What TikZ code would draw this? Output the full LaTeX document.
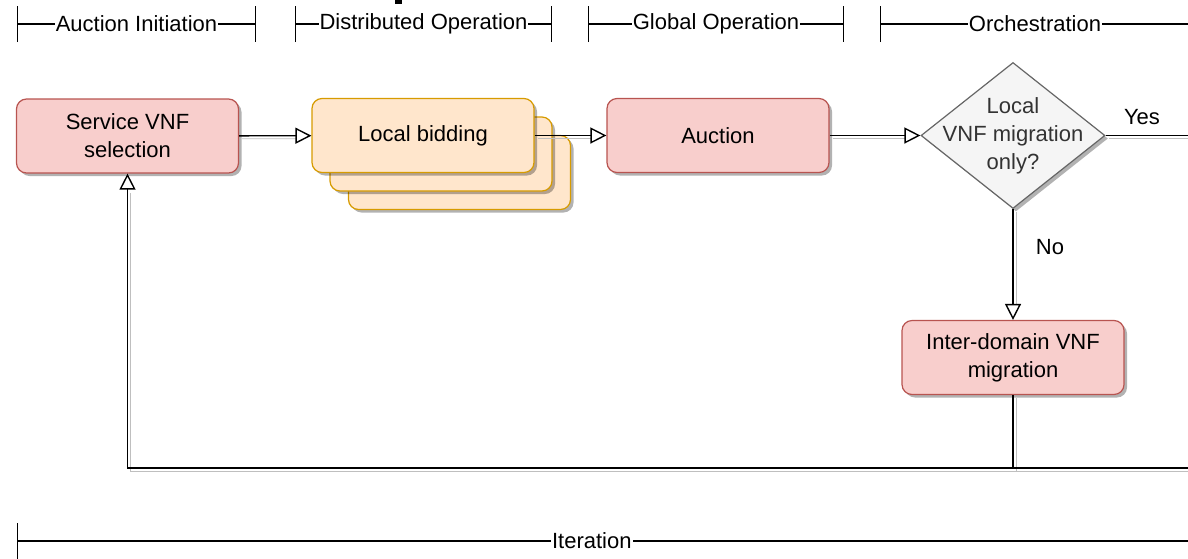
\documentclass[tikz,border=0pt]{standalone}
\usepackage{fontspec}
\setmainfont{Liberation Sans}
\usetikzlibrary{arrows.meta,shapes.geometric,shadows}
\definecolor{redfill}{HTML}{F8CECC}
\definecolor{redline}{HTML}{B85450}
\definecolor{orangefill}{HTML}{FFE6CC}
\definecolor{orangeline}{HTML}{D79B00}
\definecolor{grayfill}{HTML}{F5F5F5}
\definecolor{grayline}{HTML}{666666}
\definecolor{graytext}{HTML}{333333}

\begin{document}
\begin{tikzpicture}[x=0.5pt, y=-0.5pt,
                every node/.style={font=\fontsize{11}{14}\selectfont},
                box/.style={rectangle, rounded corners=5pt, line width=0.6pt, minimum width=111pt, minimum height=37pt, align=center,
                    drop shadow={shadow xshift=1.5pt, shadow yshift=-1.5pt, opacity=0.3, fill=black}},
                redbox/.style={box, fill=redfill, draw=redline},
                bidbox/.style={box, fill=orangefill, draw=orangeline},
                decision/.style={diamond, fill=grayfill, draw=grayline, line width=0.6pt, minimum width=92pt, minimum height=73pt, inner sep=0pt,
                    drop shadow={shadow xshift=1.5pt, shadow yshift=-1.5pt, opacity=0.3, fill=black}},
                wire/.style={draw, line width=0.7pt, preaction={draw=black!25, transform canvas={shift={(1.5pt,-1.5pt)}}}},
                flow/.style={draw, line width=0.7pt, -{Triangle[length=8pt, width=8pt, fill=white]},
                    preaction={draw=black!25, arrows=-, shorten >=8pt, transform canvas={shift={(1.5pt,-1.5pt)}}}},
                span/.style={draw, line width=0.6pt},
                bothbars/.style={{Bar[width=18pt]}-{Bar[width=18pt]}},
                leftbar/.style={{Bar[width=18pt]}-},
                phase/.style={fill=white, inner sep=0.5pt}]
                \useasboundingbox (0,0) rectangle (1188,558);

                \coordinate (ai1) at (17,24);
                \coordinate (ai2) at (256,24);
                \coordinate (do1) at (295,24);
                \coordinate (do2) at (552,24);
                \coordinate (go1) at (588,24);
                \coordinate (go2) at (844,24);
                \coordinate (or1) at (880,24);
                \coordinate (or2) at (1190,24);
                \coordinate (it1) at (17,541);
                \coordinate (it2) at (1190,541);
                \draw[span, bothbars] (ai1) -- node[phase] (aitxt) {Auction Initiation} (ai2);
                \draw[span, bothbars] (do1) -- node[phase] (dotxt) {Distributed Operation} (do2);
                \draw[span, bothbars] (go1) -- node[phase] (gotxt) {Global Operation} (go2);
                \draw[span, leftbar] (or1) -- node[phase] (ortxt) {Orchestration} (or2);
                \draw[span, leftbar] (it1) -- node[phase, pos=0.49] (ittxt) {Iteration} (it2);
                \fill (395,0) rectangle (402,4);

                \node[redbox] (sel) at (127.5,136) {Service VNF\\selection};
                \node[bidbox] (bid3) at (459.5,172.5) {};
                \node[bidbox] (bid2) at (441,154) {};
                \node[bidbox] (bid) at (423,135.5) {Local bidding};
                \node[redbox] (auc) at (718,135.5) {Auction};
                \node[decision] (dec) at (1013,135.5) {};
                \node[text=graytext, align=center] (dectxt) at (dec.center) {Local\\VNF migration\\only?};
                \node[redbox] (mig) at (1013,357.5) {Inter-domain VNF\\migration};

                \coordinate (yesend) at (1190,135.5);
                \coordinate (loopin) at (1190,468);
                \coordinate (loopjoin) at (1013,468);
                \coordinate (loopcorner) at (127.5,468);

                \draw[flow] (sel) -- (bid);
                \draw[flow] (bid) -- (auc);
                \draw[flow] (auc) -- (dec);
                \draw[wire] (dec) -- (yesend);
                \draw[flow] (dec) -- (mig);
                \draw[wire] (mig) -- (loopjoin);
                \draw[flow] (loopin) -- (loopcorner) -- (sel);

                \node (yes) at (1142,117) {Yes};
                \node (no) at (1050,247) {No};
            \end{tikzpicture}
\end{document}
